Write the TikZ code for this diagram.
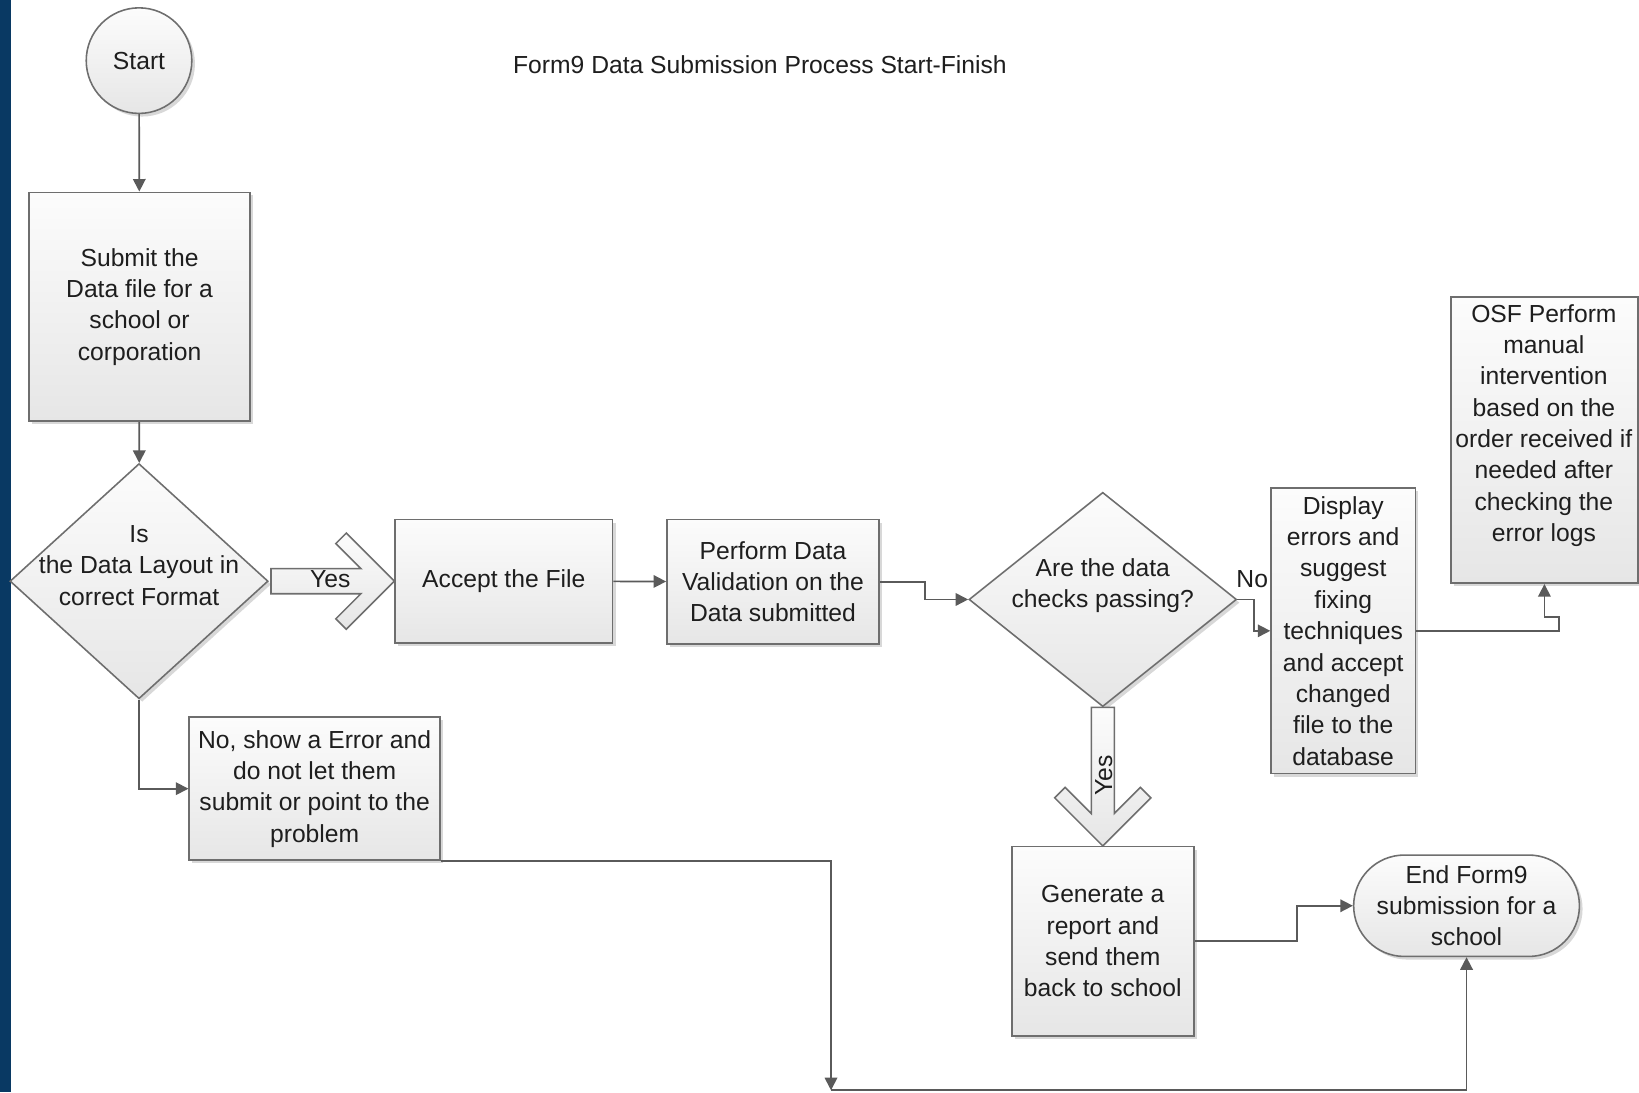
\documentclass[tikz,border=0pt]{standalone}
\usepackage{fontspec}
\setmainfont{Liberation Sans}
\usetikzlibrary{shapes.geometric,shapes.misc,arrows.meta,calc,shadows}
\newdimen\px \px=0.5pt
\definecolor{navy}{RGB}{9,57,99}
\definecolor{edgec}{HTML}{6E6E6E}
\definecolor{wire}{HTML}{5A5A5A}
\definecolor{ink}{HTML}{1E1E1E}
\definecolor{topc}{HTML}{FCFCFC}
\definecolor{botc}{HTML}{E6E6E6}
\tikzset{
  shp/.style={draw=edgec, line width=0.75pt, top color=topc, bottom color=botc,
    drop shadow={shadow xshift=1.5pt, shadow yshift=-1.5pt, opacity=0.25, fill=black!60},
    inner sep=0pt},
  txt/.style={text=ink, font=\fontsize{11.8}{15}\selectfont, align=center, inner sep=0pt},
  boxnode/.style={shp, rectangle, txt},
  conn/.style={draw=wire, line width=0.8pt, -{Triangle[length=6pt,width=6pt]}},
  plain/.style={draw=wire, line width=0.8pt},
  blk/.style={draw=edgec, line width=0.75pt, top color=topc, bottom color=botc, line join=miter}
}
\begin{document}
\begin{tikzpicture}[x=0.5pt,y=-0.5pt]
\fill[white] (0,0) rectangle (1568,1045);
\useasboundingbox (0,0) rectangle (1568,1045);
\fill[navy] (0,0) rectangle (10.5,1045);

\node[txt] (title) at (727,62) {Form9 Data Submission Process Start-Finish};

\node[shp, circle, minimum size=101\px, txt] (start) at (133,58) {Start};
\node[boxnode, minimum width=211\px, minimum height=219\px] (sub) at (133.5,293.5) {Submit the\\Data file for a\\school or\\corporation};
\node[shp, diamond, minimum width=247\px, minimum height=225\px] (d1) at (133,556) {};
\node[txt] (d1t) at (133,541) {Is\\the Data Layout in\\correct Format};
\node[boxnode, minimum width=208\px, minimum height=118\px] (acc) at (482,556) {Accept the File};
\node[boxnode, minimum width=203\px, minimum height=119\px] (perf) at (739.5,556.5) {Perform Data\\Validation on the\\Data submitted};
\node[shp, diamond, minimum width=256\px, minimum height=205\px] (d2) at (1055,573.5) {};
\node[txt] (d2t) at (1055,560) {Are the data\\checks passing?};
\node[boxnode, minimum width=138\px, minimum height=273\px] (disp) at (1285,603.5) {Display\\errors and\\suggest\\fixing\\techniques\\and accept\\changed\\file to the\\database};
\node[shp, rectangle, minimum width=179\px, minimum height=274\px] (osf) at (1477.5,421) {};
\node[txt] (osft) at (1477,407) {OSF Perform\\manual\\intervention\\based on the\\order received if\\needed after\\checking the\\error logs};
\node[boxnode, minimum width=174\px, minimum height=181\px] (gen) at (1055,900.5) {Generate a\\report and\\send them\\back to school};
\node[boxnode, minimum width=240\px, minimum height=137\px] (err) at (301,754.5) {No, show a Error and\\do not let them\\submit or point to the\\problem};
\node[shp, rounded rectangle, minimum width=216\px, minimum height=97\px, txt] (end) at (1403,866.5) {End Form9\\submission for a\\school};

% block arrow Yes (horizontal)
\draw[blk] ($(d1.east)+(2,-12)$) -- ($(acc.west)+(-32,-12)$) -- ++(-24,-24) -- ++(10,-10)
  -- (acc.west) -- ++(-46,46) -- ++(-10,-10) -- ++(24,-24) -- ($(d1.east)+(2,12)$) -- cycle;
\node[txt] (yes1) at (316,554) {Yes};

% block arrow Yes (vertical)
\draw[blk] ($(d2.south)+(-11,0)$) -- ($(gen.north)+(-11,-31)$) -- ($(gen.north)+(-36,-56)$)
  -- ($(gen.north)+(-46,-46)$) -- (gen.north) -- ($(gen.north)+(46,-46)$)
  -- ($(gen.north)+(36,-56)$) -- ($(gen.north)+(11,-31)$) -- ($(d2.south)+(11,0)$) -- cycle;
\node[txt, rotate=90] (yes2) at (1056,742) {Yes};

\node[txt] (no1) at (1198,554) {No};

% connectors
\draw[conn] (start) -- (sub);
\draw[conn] (sub) -- (d1);
\draw[conn] (d1.south) |- (err.west);
\draw[conn] (acc) -- (perf);
\draw[conn] (perf.east) -- ++(43,0) |- (d2.west);
\draw[conn] (d2.east) -- ++(16,0) |- (disp.west);
\draw[conn] (disp.east) -- ++(137,0) -- ++(0,-13) -| (osf.south);
\draw[conn] (gen.east) -- ++(98,0) |- (end.west);
\coordinate (b1) at (795,1043);
\draw[conn] (err.south east) -| (b1);
\draw[conn] (b1) -| (end.south);
\end{tikzpicture}
\end{document}
